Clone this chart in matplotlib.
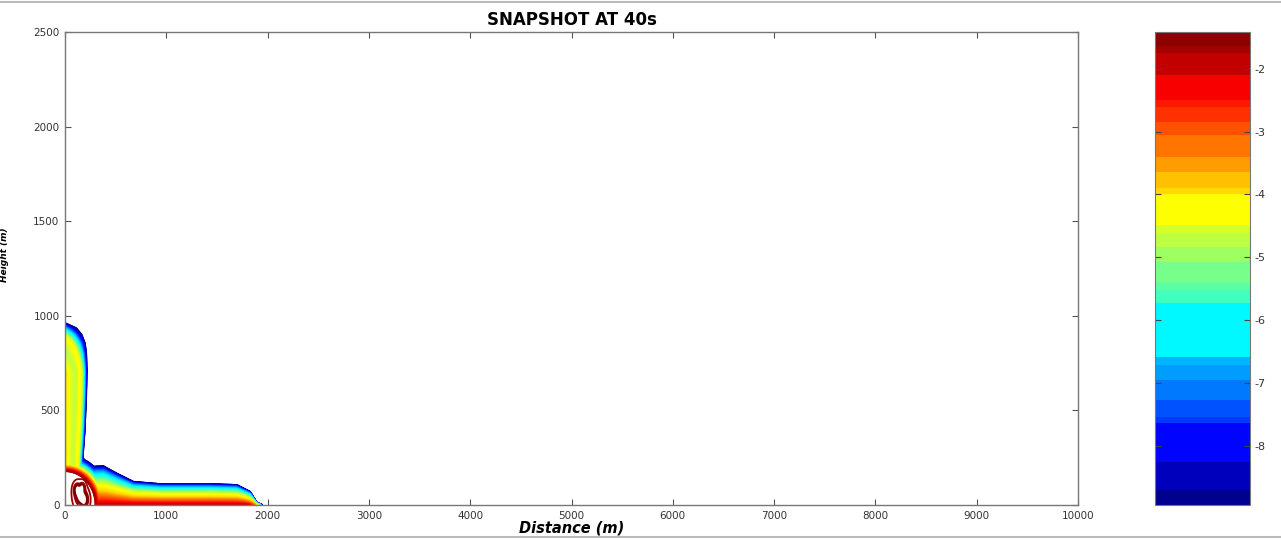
import numpy as np
import matplotlib
matplotlib.use('Agg')
import matplotlib.pyplot as plt
from matplotlib.colors import ListedColormap, BoundaryNorm, Normalize, LinearSegmentedColormap
from matplotlib.cm import ScalarMappable
from matplotlib.lines import Line2D

plt.rcParams['font.family'] = ['DejaVu Sans']

# colour scale bands, log10 concentration
band_edges = [-8.93, -8.69, -8.25, -7.63, -7.53, -7.26, -6.94, -6.71, -6.58,
              -5.72, -5.52, -5.40, -5.07, -4.83, -4.61, -4.49, -3.99, -3.90,
              -3.65, -3.41, -3.06, -2.85, -2.61, -2.50, -2.11, -1.76, -1.64, -1.42]
cbar_ticks = [-8, -7, -6, -5, -4, -3, -2]

# rising column: height (m) -> half width of the outer edge (m)
col_z = [0, 250, 400, 600, 714, 800, 855, 900, 934, 962]
col_w = [175, 174, 195, 210, 214, 210, 197, 165, 115, 0]
# across the column: fraction of half width -> log10 concentration
col_u = [0.0, 0.12, 0.3, 0.45, 0.6, 0.7, 0.76, 0.82, 0.88, 0.94, 1.0]
col_v = [-4.0, -4.2, -4.5, -4.75, -4.5, -4.2, -4.6, -5.6, -6.4, -7.8, -8.93]

# spreading ground layer: distance (m) -> depth of the outer edge (m)
lay_x = [0, 174, 247, 378, 510, 674, 938, 1431, 1695, 1826, 1892, 1945]
lay_d = [250, 250, 203, 206, 167, 123, 111, 111, 106, 70, 12, 0]
# up through the layer: fraction of depth -> log10 concentration
lay_s = [0.0, 0.05, 0.13, 0.25, 0.35, 0.5, 0.62, 0.72, 0.8, 0.87, 0.94, 1.0]
lay_v = [-1.95, -2.2, -2.7, -3.3, -3.9, -4.3, -5.0, -5.8, -6.3, -7.0, -8.0, -8.93]

# release zone at the origin and the puffs inside it
src_rx, src_rz, src_v = 300, 178, -1.66
puff_x = [150, 190, 120, 170]
puff_z = [50, 28, 80, 90]
puff_r = [40, 30, 25, 20]

xfront0, xfront1 = 1700, 1945
ztop0, ztop1 = 700, 962

# classic MATLAB jet
jet_ml = LinearSegmentedColormap('jet_ml', {
    'red':   [(0, 0, 0), (0.375, 0, 0), (0.625, 1, 1), (0.875, 1, 1), (1, 0.5, 0.5)],
    'green': [(0, 0, 0), (0.125, 0, 0), (0.375, 1, 1), (0.625, 1, 1), (0.875, 0, 0), (1, 0, 0)],
    'blue':  [(0, 0.5, 0.5), (0.125, 1, 1), (0.375, 1, 1), (0.625, 0, 0), (1, 0, 0)],
})

x = np.linspace(0, 2300, 800)
z = np.linspace(0, 1100, 600)
X, Z = np.meshgrid(x, z)

# column part
W = np.interp(Z, col_z, col_w)
u = np.where(W > 0, X / np.maximum(W, 1e-6), 1.0)
u = np.clip(u, 0, 1)
t = np.clip((Z - ztop0) / (ztop1 - ztop0), 0, 1)
s_col = 1 - (1 - u) * (1 - t)
v_col = np.interp(s_col, col_u, col_v)

# ground layer part
D = np.interp(X, lay_x, lay_d)
s = np.where(D > 0, Z / np.maximum(D, 1e-6), 1.0)
s = np.clip(s, 0, 1)
f = np.clip((X - xfront0) / (xfront1 - xfront0), 0, 1) ** 4
s_lay = 1 - (1 - s) * (1 - f)
v_lay = np.interp(s_lay, lay_s, lay_v)

# release zone
r = np.hypot(X / src_rx, Z / src_rz)
v_src = np.where(r < 1, src_v, src_v - 15 * (r - 1))
for px, pz, pr in zip(puff_x, puff_z, puff_r):
    v_src = v_src + 0.4 * np.exp(-((X - px) ** 2 + (Z - pz) ** 2) / pr ** 2) * (r < 1)

C = np.maximum(np.maximum(v_col, v_lay), v_src)
C = np.where(C < -8.93, np.nan, C)

vmin, vmax = band_edges[0], band_edges[-1]
norm = Normalize(vmin, vmax)

fig = plt.figure(figsize=(12.81, 5.40), dpi=100)
ax = fig.add_axes([65 / 1281, 35 / 540, 1013 / 1281, 473 / 540])

levels = np.linspace(-8.9, -1.45, 110)
ax.contour(X, Z, C, levels=levels, cmap=jet_ml, norm=norm, linewidths=1.3)

ax.set_xlim(0, 10000)
ax.set_ylim(0, 2500)
ax.set_xticks(np.arange(0, 10001, 1000))
ax.set_yticks(np.arange(0, 2501, 500))
ax.tick_params(direction='in', top=True, right=True, length=4, width=0.8,
               labelsize=7.5, labelcolor='#333333', color='#555555', pad=4)
for sp in ax.spines.values():
    sp.set_color('#777777')
    sp.set_linewidth(1.0)
ax.set_title('SNAPSHOT AT 40s', fontsize=12, fontweight='bold', pad=5)
ax.set_xlabel('Distance (m)', fontsize=10.5, fontweight='bold', fontstyle='italic', labelpad=0)
ax.set_ylabel('Height (m)', fontsize=6.5, fontweight='bold', fontstyle='italic')
ax.yaxis.set_label_coords(-0.055, 0.53)

# banded colour bar
mids = [(a + b) / 2 for a, b in zip(band_edges[:-1], band_edges[1:])]
band_cmap = ListedColormap(jet_ml(norm(mids)))
band_norm = BoundaryNorm(band_edges, band_cmap.N)
cax = fig.add_axes([1155 / 1281, 35 / 540, 95 / 1281, 473 / 540])
cb = fig.colorbar(ScalarMappable(norm=band_norm, cmap=band_cmap), cax=cax,
                  spacing='proportional', ticks=cbar_ticks)
cb.minorticks_off()
cb.set_ticklabels([str(v) for v in cbar_ticks])
cax.yaxis.set_ticks_position('both')
cax.tick_params(direction='in', length=4, width=0.8, labelright=True, labelleft=False,
                labelsize=8, labelcolor='#333333', color='#444444', pad=3)
cb.outline.set_edgecolor('#777777')

# thin frame rules above and below
for yy in (1 - 2 / 540, 3 / 540):
    fig.add_artist(Line2D([0, 1], [yy, yy], color='#bbbbbb', lw=1.5,
                          transform=fig.transFigure))

fig.savefig('out.png', dpi=100)
